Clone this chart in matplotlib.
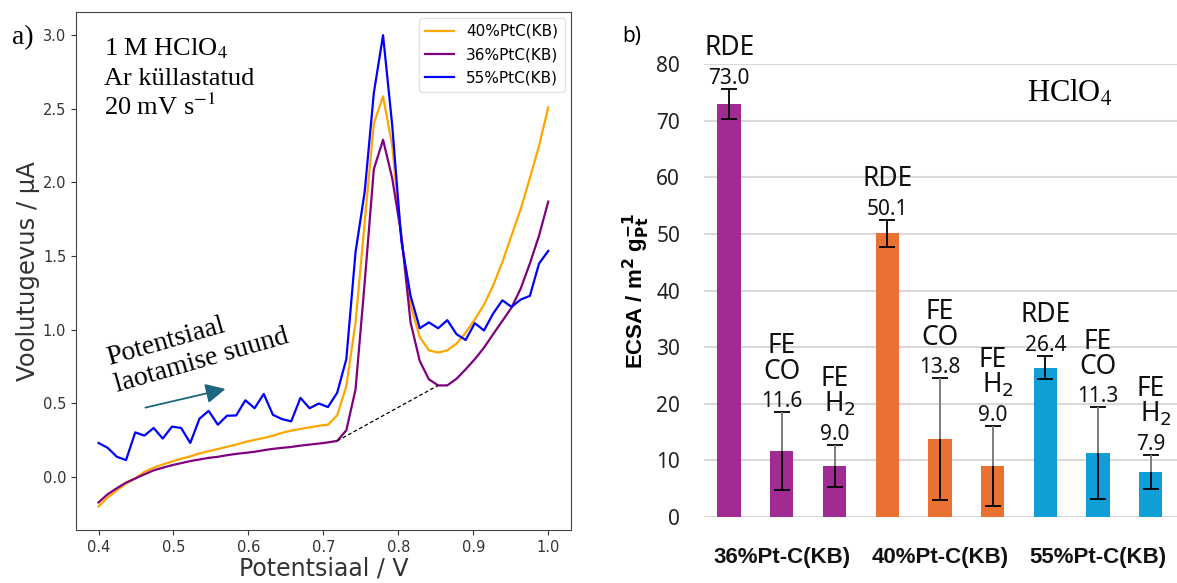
import numpy as np
import matplotlib
matplotlib.use('agg')
import matplotlib.pyplot as plt

plt.rcParams['font.family'] = 'DejaVu Sans'

# a) linear sweep voltammetry, 1 M HClO4, Ar saturated
potential = [0.4000, 0.4122, 0.4245, 0.4367, 0.4490, 0.4612, 0.4735, 0.4857,
             0.4980, 0.5102, 0.5224, 0.5347, 0.5469, 0.5592, 0.5714, 0.5837,
             0.5959, 0.6082, 0.6204, 0.6327, 0.6449, 0.6571, 0.6694, 0.6816,
             0.6939, 0.7061, 0.7184, 0.7306, 0.7429, 0.7551, 0.7673, 0.7796,
             0.7918, 0.8041, 0.8163, 0.8286, 0.8408, 0.8531, 0.8653, 0.8776,
             0.8898, 0.9020, 0.9143, 0.9265, 0.9388, 0.9510, 0.9633, 0.9755,
             0.9878, 1.0000]
i_40 = [-0.20, -0.14, -0.09, -0.045, -0.01, 0.035, 0.063, 0.085, 0.105, 0.124,
        0.14, 0.16, 0.175, 0.19, 0.205, 0.22, 0.238, 0.252, 0.265, 0.28,
        0.30, 0.315, 0.326, 0.337, 0.348, 0.355, 0.419, 0.618, 1.05, 1.73,
        2.40, 2.585, 2.25, 1.62, 1.17, 0.95, 0.86, 0.845, 0.86, 0.905,
        0.98, 1.07, 1.17, 1.30, 1.46, 1.64, 1.82, 2.03, 2.25, 2.51]
i_36 = [-0.173, -0.117, -0.076, -0.038, -0.01, 0.018, 0.045, 0.063, 0.08, 0.094,
        0.108, 0.119, 0.13, 0.137, 0.148, 0.157, 0.164, 0.171, 0.182, 0.191,
        0.198, 0.204, 0.213, 0.22, 0.227, 0.235, 0.245, 0.317, 0.595, 1.32,
        2.09, 2.29, 2.03, 1.64, 1.05, 0.787, 0.663, 0.622, 0.622, 0.667,
        0.731, 0.80, 0.878, 0.97, 1.06, 1.15, 1.28, 1.45, 1.64, 1.87]
i_55 = [0.231, 0.198, 0.137, 0.115, 0.303, 0.281, 0.333, 0.261, 0.342, 0.333,
        0.231, 0.396, 0.449, 0.355, 0.416, 0.418, 0.521, 0.467, 0.564, 0.422,
        0.393, 0.378, 0.537, 0.467, 0.499, 0.475, 0.572, 0.80, 1.527, 1.936,
        2.607, 3.0, 2.39, 1.6, 1.23, 1.01, 1.05, 1.01, 1.065, 0.97,
        0.93, 1.045, 0.995, 1.11, 1.2, 1.155, 1.205, 1.23, 1.45, 1.535]

# b) ECSA per method
catalysts = ['36%Pt-C(KB)', '40%Pt-C(KB)', '55%Pt-C(KB)']
methods = ['RDE', 'FE CO', 'FE H2']
ecsa = [73.0, 11.6, 9.0, 50.1, 13.8, 9.0, 26.4, 11.3, 7.9]
ecsa_err = [2.65, 6.9, 3.75, 2.4, 10.75, 7.05, 2.1, 8.05, 3.0]
method_lines = {'RDE': ['RDE'], 'FE CO': ['FE', 'CO'], 'FE H2': ['FE', 'H$_2$']}
bar_colors = ['#A02B93', '#E97132', '#0F9ED5']

fig = plt.figure(figsize=(11.77, 5.83), dpi=100)

# ---------------- panel a ----------------
ax1 = fig.add_axes([0.0646, 0.0909, 0.4203, 0.8891])
ax1.plot(potential, i_40, color='orange', lw=1.6, label='40%PtC(KB)')
ax1.plot(potential, i_36, color='purple', lw=1.6, label='36%PtC(KB)')
ax1.plot(potential, i_55, color='blue', lw=1.6, label='55%PtC(KB)')
# baseline under the CO stripping peak
ax1.plot([potential[26], potential[37]], [i_36[26], i_36[37]], color='black',
         ls=(0, (3, 2)), lw=0.9)
ax1.set_xticks([0.4, 0.5, 0.6, 0.7, 0.8, 0.9, 1.0])
ax1.set_yticks([0.0, 0.5, 1.0, 1.5, 2.0, 2.5, 3.0])
ax1.tick_params(labelsize=10.5, colors='#333333')
for s in ax1.spines.values():
    s.set_color('#444444')
ax1.set_xlabel('Potentsiaal / V', fontsize=17, color='#333333')
ax1.set_ylabel('Voolutugevus / µA', fontsize=17.5, color='#333333')
ax1.xaxis.set_label_coords(0.5, -0.052)
ax1.yaxis.set_label_coords(-0.072, 0.5)
leg = ax1.legend(loc='upper right', fontsize=11, handlelength=1.9,
                 borderaxespad=0.4, labelspacing=0.55)
leg.get_frame().set_edgecolor('#dddddd')

ax1.text(0.0574, 0.9165, '1 M HClO$_4$', transform=ax1.transAxes,
         family='Liberation Serif', fontsize=19, math_fontfamily='stix',
         va='baseline')
ax1.text(0.0574, 0.8586, 'Ar küllastatud', transform=ax1.transAxes,
         family='Liberation Serif', fontsize=19, va='baseline')
ax1.text(0.0574, 0.8007, '20 mV s$^{-1}$', transform=ax1.transAxes,
         family='Liberation Serif', fontsize=19, math_fontfamily='stix',
         va='baseline')
ax1.text(0.423, 0.596, 'Potentsiaal\nlaotamise suund', family='Liberation Serif',
         fontsize=20, rotation=16, rotation_mode='anchor', va='baseline',
         linespacing=1.15)
ax1.annotate('', xy=(0.573, 0.602), xytext=(0.459, 0.467),
             arrowprops=dict(arrowstyle='-|>,head_length=1.2,head_width=0.6',
                             color='#1d6680', lw=1.3))
fig.text(12 / 1177, 1 - 44 / 583, 'a)', family='Liberation Serif', fontsize=20)

# ---------------- panel b ----------------
ax2 = fig.add_axes([0.598, 0.1132, 0.402, 0.777])
x = np.arange(len(ecsa))
colors = [bar_colors[i // 3] for i in x]
ax2.bar(x, ecsa, width=0.443, color=colors, zorder=2)
ax2.errorbar(x, ecsa, yerr=ecsa_err, fmt='none', ecolor='black', elinewidth=1.3,
             capsize=6, capthick=1.3, zorder=3)
# upper whiskers of the FE values are lighter
for i in x:
    if methods[i % 3] != 'RDE':
        ax2.vlines(i, ecsa[i], ecsa[i] + ecsa_err[i], color='#8c8c8c', lw=1.3,
                   zorder=3)

ax2.set_xlim(-0.48, 8.5)
ax2.set_ylim(0, 80)
ax2.set_yticks(range(0, 81, 10))
ax2.set_xticks([])
ax2.grid(axis='y', color='#d9d9d9', lw=1.5, zorder=0)
for s in ax2.spines.values():
    s.set_visible(False)
ax2.tick_params(axis='y', length=0, pad=17, labelsize=15, labelcolor='#222222')
for lab in ax2.get_yticklabels():
    lab.set_family('Noto Sans')
ax2.set_ylabel(r'ECSA / m$^{\mathbf{2}}$ g$_{\mathbf{Pt}}^{\mathbf{-1}}$',
               fontsize=16, fontweight='bold', family='Liberation Sans',
               math_fontfamily='dejavusans')
ax2.yaxis.set_label_coords(-0.11, 0.50)

for i in x:
    base = ecsa[i] + ecsa_err[i] + 0.9
    ax2.text(i, base, f'{ecsa[i]:.1f}', ha='center', va='baseline',
             fontsize=15, family='Noto Sans', color='#111111')
    y = base + 5.0
    for line in reversed(method_lines[methods[i % 3]]):
        dx = 0.1 if line.startswith('H') else 0
        ax2.text(i + dx, y, line, ha='center', va='baseline', fontsize=19,
                 family='Noto Sans', color='#111111', clip_on=False)
        y += 4.5

for g, name in enumerate(catalysts):
    ax2.text(3 * g + 1, -7.1, name, ha='center', va='center', fontsize=16,
             fontweight='bold', family='Liberation Sans', color='#111111')

ax2.text(5.66, 73.4, 'HClO$_4$', family='Liberation Serif', fontsize=22,
         math_fontfamily='stix', va='baseline')
fig.text(622 / 1177, 1 - 41.7 / 583, 'b)', fontsize=15, family='Noto Sans')

fig.savefig('out.png', dpi=100)
